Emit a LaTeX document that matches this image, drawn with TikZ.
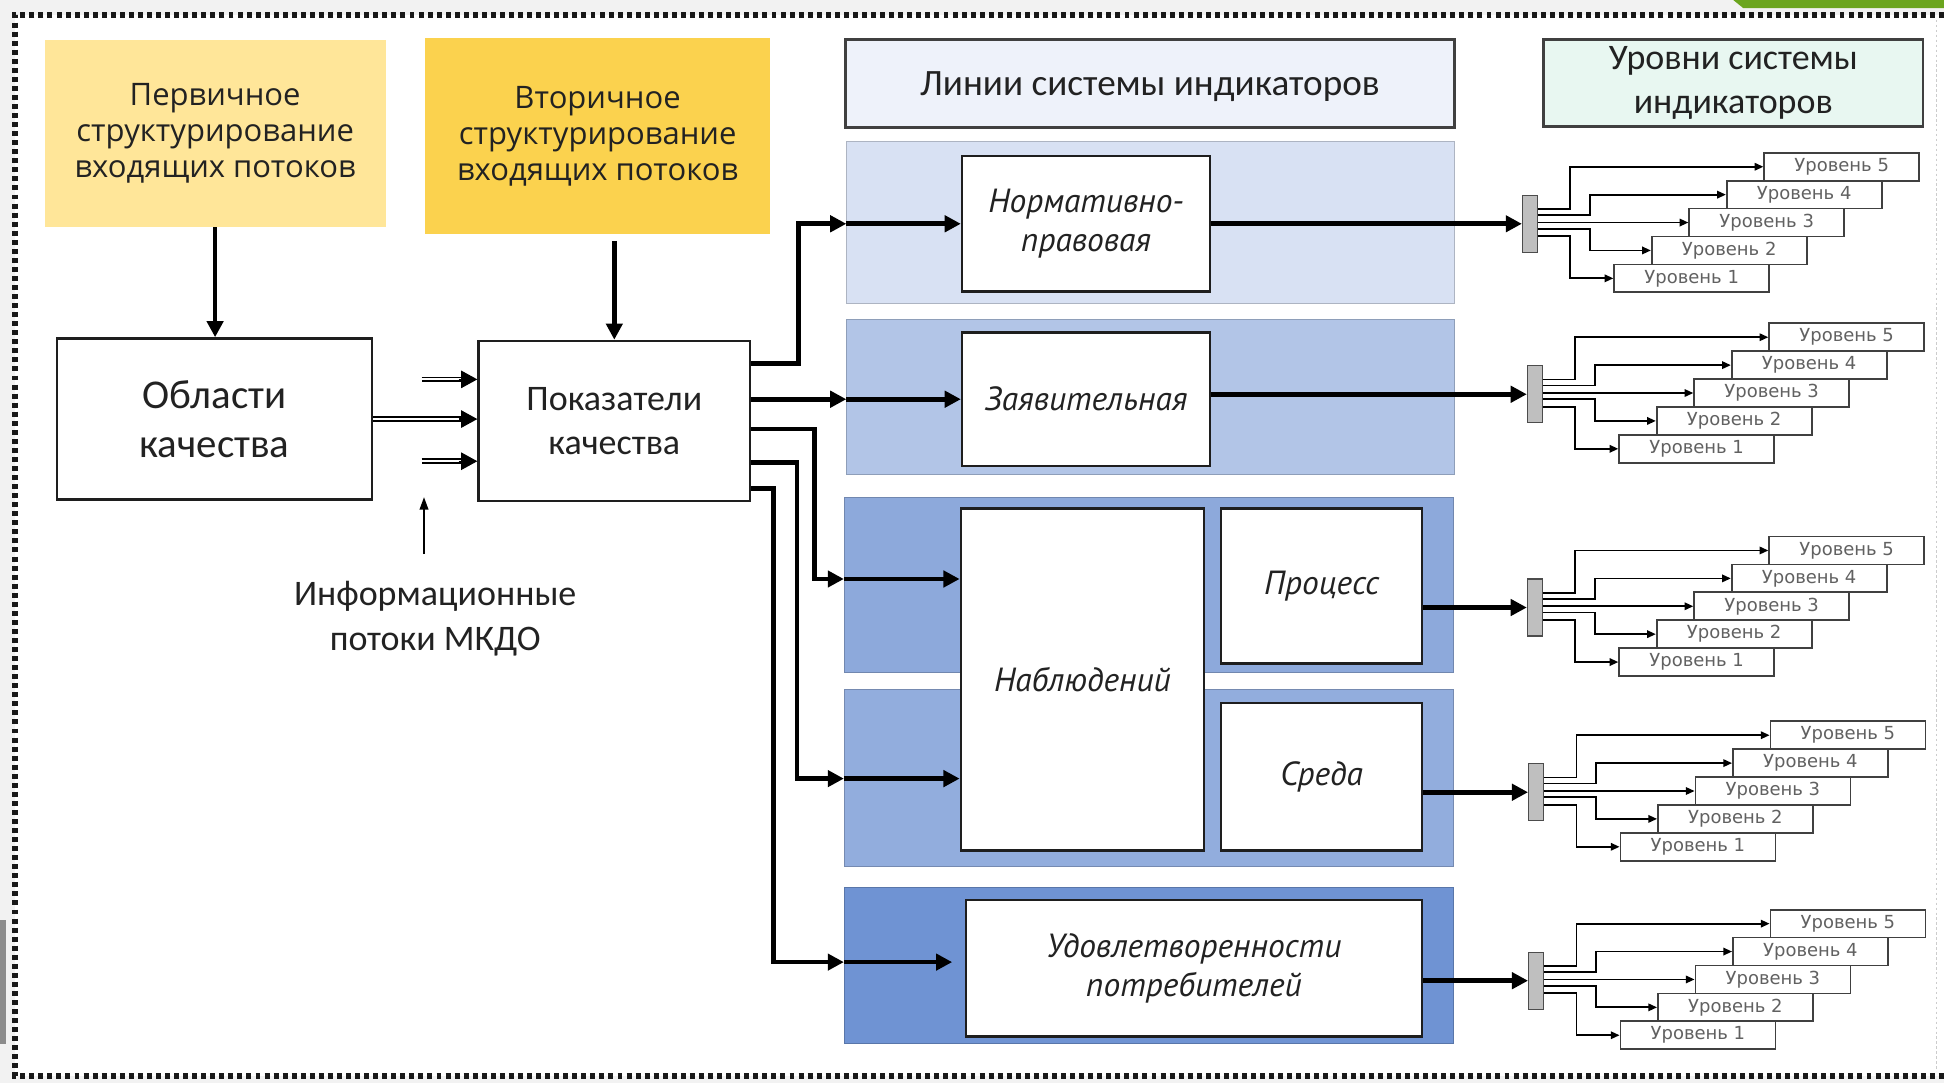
\documentclass[tikz,border=0pt]{standalone}
\usepackage{fontspec}
\setmainfont{Carlito}
\newfontfamily\osans{Open Sans}
\newfontfamily\dvs{DejaVu Sans}
\newfontfamily\ptit{PT Sans Italic}
\usetikzlibrary{arrows.meta,calc}
\definecolor{txt}{HTML}{222222}
\definecolor{yel1}{HTML}{FFE699}
\definecolor{yel2}{HTML}{FBD24E}
\definecolor{hdr1}{HTML}{EEF2FA}
\definecolor{hdr2}{HTML}{E8F7F1}
\definecolor{b1}{HTML}{D8E1F3}
\definecolor{b2}{HTML}{B2C5E7}
\definecolor{b3}{HTML}{8DA9DB}
\definecolor{b4}{HTML}{92ADDD}
\definecolor{b5}{HTML}{6F93D3}
\definecolor{bord}{HTML}{1E1E1E}
\definecolor{grn}{HTML}{6BA51E}
\tikzset{
  ybox/.style={inner sep=0pt, align=center, text=txt, font=\osans\fontsize{25}{29}\selectfont},
  box/.style={draw=bord, line width=2pt, fill=white, inner sep=0pt, align=center, text=txt},
  ibox/.style={box, font=\ptit\fontsize{27}{31}\selectfont},
  hbox/.style={draw=black!75, line width=2pt, inner sep=0pt, align=center, text=txt},
  band/.style={draw=#1!80!black, line width=0.7pt, fill=#1, inner sep=0pt},
  arr/.style={line width=3.7pt, -{Triangle[length=13pt,width=13pt]}},
  dshaft/.style={double=white, double distance=1.6pt, line width=1.4pt},
  dtip/.style={line width=1pt, -{Triangle[length=13pt,width=14pt]}},
  thinarr/.style={line width=1.2pt, -{Triangle[length=10pt,width=7pt]}},
  levarr/.style={line width=1.4pt, -{Triangle[length=7pt,width=6pt]}},
  bus/.style={draw=black!70, fill=black!25, line width=1pt, minimum width=12pt, minimum height=46pt, inner sep=0pt},
  lvl/.style={draw=black!75, line width=1.4pt, fill=white, minimum width=125pt, minimum height=22.5pt, inner sep=0pt, text=black!62, font=\dvs\fontsize{14.5}{14.5}\selectfont},
  dotb/.style={line width=4.5pt, dash pattern=on 4pt off 3.3pt, color=black!90}
}
\newcommand{\lvgroup}[3]{%
  \node[bus] (#1bus) at ({#2+6},{#3}) {};
  \foreach \k in {1,...,5} {
    \node[lvl] (#1L\k) at ({#2+74+(\k-1)*30.25+62.5},{#3-1-(\k-3)*22.5}) {Уровень \k};
  }
  \draw[levarr] ($(#1bus.east)+(0,-12)$) -- ++(26,0) |- (#1L5.west);
  \draw[levarr] ($(#1bus.east)+(0,-7)$) -- ++(42,0) |- (#1L4.west);
  \draw[levarr] ($(#1bus.east)+(0,-1)$) -- (#1L3.west);
  \draw[levarr] ($(#1bus.east)+(0,4)$) -- ++(42,0) |- (#1L2.west);
  \draw[levarr] ($(#1bus.east)+(0,10)$) -- ++(26,0) |- (#1L1.west);
}
\begin{document}
\begin{tikzpicture}[x=1pt,y=-1pt]
\useasboundingbox (0,0) rectangle (1568,873.6);
\fill[black!5] (0,0) rectangle (1568,873.6);
\fill[white] (12,12) rectangle (1568,868);
\fill[grn] (1398,0) -- (1568,0) -- (1568,6.5) -- (1406,6.5) -- cycle;
\fill[black!45] (0,742) rectangle (5,842);
\draw[dotb] (1568,12) -- (12,12) -- (12,868) -- (1568,868);
\draw[black!20, line width=1pt, dash pattern=on 2pt off 2pt] (1562,16) -- (1562,864);

% left part
\node[ybox, fill=yel1, minimum width=275pt, minimum height=151pt] (y1) at (173.5,107.5) {Первичное\\структурирование\\входящих потоков};
\node[ybox, fill=yel2, minimum width=278pt, minimum height=158pt] (y2) at (482,110) {Вторичное\\структурирование\\входящих потоков};
\node[box, minimum width=254pt, minimum height=130pt, font=\fontsize{33}{40}\selectfont] (obl) at (173,338) {Области\\качества};
\node[box, minimum width=219pt, minimum height=129pt, font=\fontsize{29}{35}\selectfont] (pok) at (495.5,339.5) {Показатели\\качества};
\node[align=center, text=txt, font=\fontsize{29}{36}\selectfont] (info) at (351,499) {Информационные\\потоки МКДО};

% headers
\node[hbox, fill=hdr1, minimum width=491pt, minimum height=71pt, text depth=0pt, font=\fontsize{30}{36}\selectfont] (h1) at (927.5,67.5) {Линии системы индикаторов};
\node[hbox, fill=hdr2, minimum width=306pt, minimum height=70pt, font=\fontsize{29}{36}\selectfont] (h2) at (1398,67) {Уровни системы\\индикаторов};

% bands
\node[band=b1, minimum width=490pt, minimum height=131pt] (bd1) at (928,179.5) {};
\node[band=b2, minimum width=490pt, minimum height=125pt] (bd2) at (928,320.5) {};
\node[band=b3, minimum width=491pt, minimum height=141pt] (bd3) at (926.5,471.5) {};
\node[band=b4, minimum width=491pt, minimum height=143pt] (bd4) at (926.5,627.5) {};
\node[band=b5, minimum width=491pt, minimum height=126pt] (bd5) at (926.5,779) {};

% line boxes
\node[ibox, minimum width=200pt, minimum height=109pt] (norm) at (876,180.5) {Нормативно-\\правовая};
\node[ibox, minimum width=200pt, minimum height=108pt] (zav) at (876,322) {Заявительная};
\node[ibox, minimum width=196pt, minimum height=276pt] (nab) at (873,548) {Наблюдений};
\node[ibox, minimum width=162pt, minimum height=125pt] (proc) at (1066,472.5) {Процесс};
\node[ibox, minimum width=162pt, minimum height=119pt] (sreda) at (1066,626.5) {Среда};
\node[ibox, minimum width=368pt, minimum height=110pt] (udov) at (963,781) {Удовлетворенности\\потребителей};

% level groups
\lvgroup{g1}{1228}{180.5}
\lvgroup{g2}{1232}{318}
\lvgroup{g3}{1232}{490}
\lvgroup{g4}{1233}{639}
\lvgroup{g5}{1233}{791}

% down arrows
\draw[arr] (y1.south) -- (y1.south |- obl.north);
\draw[arr] ($(pok.north |- y2.south)+(0,5)$) -- (pok.north);

% double arrows into Показатели
\coordinate (d1) at (340,306);
\coordinate (d3) at (340,372);
\draw[dshaft] (d1) -- ($(pok.west |- d1)+(-8,0)$);
\draw[dtip] ($(pok.west |- d1)+(-15,0)$) -- (pok.west |- d1);
\draw[dshaft] (obl.east) -- ($(pok.west |- obl.east)+(-8,0)$);
\draw[dtip] ($(pok.west |- obl.east)+(-15,0)$) -- (pok.west |- obl.east);
\draw[dshaft] (d3) -- ($(pok.west |- d3)+(-8,0)$);
\draw[dtip] ($(pok.west |- d3)+(-15,0)$) -- (pok.west |- d3);

% info arrow
\coordinate (up1) at (342,447);
\coordinate (up2) at (342,401);
\draw[thinarr] (up1) -- (up2);

% connectors from Показатели
\coordinate (o1) at ($(pok.north east)+(0,19)$);
\coordinate (o2) at (pok.east |- zav.west);
\coordinate (o3) at ($(pok.north east)+(0,72)$);
\coordinate (o4) at ($(pok.north east)+(0,99)$);
\coordinate (o5) at ($(pok.north east)+(0,120)$);
\coordinate (j1) at (644,0);
\coordinate (j3) at (657,0);
\coordinate (j4) at (643,0);
\coordinate (j5) at (624,0);
\coordinate (k3) at (0,467);
\coordinate (k4) at (0,628);
\coordinate (k5) at (0,776);

\draw[arr] (o1) -- (o1 -| j1) |- (bd1.west |- norm.west);
\draw[arr] (bd1.west |- norm.west) -- (norm.west);
\draw[arr] (o2) -- (bd2.west |- zav.west);
\draw[arr] (bd2.west |- zav.west) -- (zav.west);
\draw[arr] (o3) -- (o3 -| j3) |- (bd3.west |- k3);
\draw[arr] (bd3.west |- k3) -- (nab.west |- k3);
\draw[arr] (o4) -- (o4 -| j4) |- (bd4.west |- k4);
\draw[arr] (bd4.west |- k4) -- (nab.west |- k4);
\draw[arr] (o5) -- (o5 -| j5) |- (bd5.west |- k5);
\draw[arr, shorten >=10pt] (bd5.west |- k5) -- (udov.west |- k5);

% to level buses
\draw[arr] (norm.east |- g1bus.west) -- (g1bus.west);
\draw[arr] (zav.east |- g2bus.west) -- (g2bus.west);
\draw[arr] (proc.east |- g3bus.west) -- (g3bus.west);
\draw[arr] (sreda.east |- g4bus.west) -- (g4bus.west);
\draw[arr] (udov.east |- g5bus.west) -- (g5bus.west);
\end{tikzpicture}
\end{document}
